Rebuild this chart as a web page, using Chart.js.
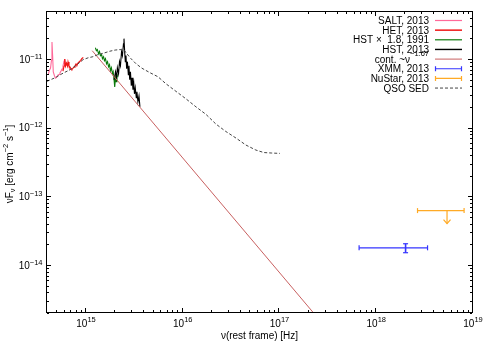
<!DOCTYPE html>
<html>
<head>
<meta charset="utf-8">
<script src="https://cdn.jsdelivr.net/npm/chart.js@4.4.1/dist/chart.umd.min.js"></script>
<style>
  html, body { margin: 0; padding: 0; background: #fff; }
  #wrap { width: 491px; height: 343px; }
</style>
</head>
<body>
<div id="wrap"><canvas id="sed" width="491" height="343"></canvas></div>
<script>
// rest-frame frequency [Hz] and nuF_nu [erg cm^-2 s^-1]
const saltNu   = [4.09e14, 4.20e14, 4.30e14, 4.40e14, 4.45e14, 4.53e14, 4.59e14, 4.73e14, 4.86e14, 5.01e14, 5.14e14,
                  5.26e14, 5.38e14, 5.52e14, 5.65e14, 5.78e14, 5.93e14, 6.03e14, 6.14e14, 6.29e14, 6.44e14];
const saltFlux = [6.05e-12, 6.92e-12, 7.39e-12, 9.67e-12, 1.77e-11, 1.03e-11, 6.47e-12, 5.65e-12, 5.28e-12, 5.47e-12, 5.85e-12,
                  5.94e-12, 6.25e-12, 6.68e-12, 7.15e-12, 7.91e-12, 9.35e-12, 1.00e-11, 7.91e-12, 8.45e-12, 7.91e-12];

const hetNu   = [5.78e14, 5.93e14, 6.03e14, 6.14e14, 6.29e14, 6.44e14, 6.52e14, 6.67e14, 6.84e14, 7.00e14, 7.16e14,
                 7.35e14, 7.52e14, 7.69e14, 7.89e14, 8.07e14, 8.26e14, 8.47e14, 8.67e14, 8.87e14, 9.09e14, 9.38e14];
const hetFlux = [6.68e-12, 7.91e-12, 1.00e-11, 7.91e-12, 8.74e-12, 7.91e-12, 9.04e-12, 7.91e-12, 7.64e-12, 7.15e-12, 7.03e-12,
                 7.39e-12, 7.64e-12, 7.91e-12, 8.45e-12, 8.18e-12, 8.74e-12, 9.04e-12, 9.35e-12, 9.67e-12, 1.02e-11, 1.05e-11];

// HST 1991, already scaled x1.8
const hst91Nu   = [1.25e15, 1.28e15, 1.31e15, 1.35e15, 1.38e15, 1.41e15, 1.45e15, 1.48e15, 1.52e15, 1.55e15, 1.59e15, 1.63e15, 1.67e15,
                   1.71e15, 1.75e15, 1.79e15, 1.83e15, 1.88e15, 1.91e15, 1.95e15, 1.98e15, 2.02e15, 2.05e15, 2.09e15, 2.12e15];
const hst91Flux = [1.46e-11, 1.32e-11, 1.37e-11, 1.19e-11, 1.28e-11, 1.12e-11, 1.16e-11, 1.01e-11, 1.08e-11, 9.45e-12, 1.01e-11, 8.53e-12, 9.14e-12,
                   7.71e-12, 8.26e-12, 6.75e-12, 7.46e-12, 6.10e-12, 6.52e-12, 4.98e-12, 3.93e-12, 5.33e-12, 4.66e-12, 6.10e-12, 5.51e-12];

const hst13Nu   = [1.95e15, 2.02e15, 2.07e15, 2.11e15, 2.17e15, 2.22e15, 2.27e15, 2.33e15, 2.38e15, 2.44e15, 2.47e15, 2.51e15, 2.55e15,
                   2.59e15, 2.63e15, 2.68e15, 2.74e15, 2.78e15, 2.83e15, 2.88e15, 2.94e15, 2.99e15, 3.06e15, 3.12e15, 3.17e15, 3.23e15,
                   3.31e15, 3.36e15, 3.44e15, 3.53e15, 3.61e15];
const hst13Flux = [4.98e-12, 6.52e-12, 5.33e-12, 7.46e-12, 6.10e-12, 9.14e-12, 7.98e-12, 1.28e-11, 1.12e-11, 1.67e-11, 1.98e-11, 1.28e-11, 9.14e-12,
                   1.12e-11, 7.21e-12, 9.14e-12, 5.89e-12, 7.98e-12, 4.98e-12, 6.52e-12, 4.07e-12, 5.33e-12, 3.56e-12, 4.36e-12, 3.11e-12, 3.80e-12,
                   2.72e-12, 3.33e-12, 2.38e-12, 2.90e-12, 2.01e-12];

// continuum ~nu^-1.67, end points
const contNu   = [1.16e15, 2.3e17];
const contFlux = [1.32e-11, 1.93e-15];

// XMM: [low, centre, high]
const xmmNu   = [6.65e17, 2.01e18, 3.39e18];
const xmmFlux = [1.51e-14, 1.78e-14, 2.04e-14];

// NuSTAR upper limit: [low, centre, high], flux level and arrow tip
const nustarNu   = [2.67e18, 5.39e18, 8.09e18];
const nustarFlux = [6.2e-14, 4.0e-14];

const qsoNu   = [3.95e14, 4.79e14, 5.65e14, 6.84e14, 8.07e14, 9.31e14, 1.05e15, 1.18e15, 1.33e15, 1.53e15, 1.77e15, 2.00e15, 2.24e15,
                 2.47e15, 2.65e15, 2.92e15, 3.29e15, 3.79e15, 4.59e15, 5.55e15, 6.70e15, 8.51e15, 1.08e16, 1.37e16, 1.74e16, 2.20e16,
                 2.79e16, 3.55e16, 4.50e16, 5.70e16, 6.90e16, 8.34e16, 1.01e17];
const qsoFlux = [4.73e-12, 5.33e-12, 6.10e-12, 6.98e-12, 8.26e-12, 9.77e-12, 1.04e-11, 1.08e-11, 1.16e-11, 1.22e-11, 1.30e-11, 1.35e-11, 1.37e-11,
                 1.35e-11, 1.19e-11, 1.01e-11, 8.53e-12, 7.33e-12, 6.31e-12, 5.51e-12, 4.36e-12, 3.38e-12, 2.63e-12, 2.01e-12, 1.56e-12, 1.13e-12,
                 8.79e-13, 7.06e-13, 5.58e-13, 4.72e-13, 4.34e-13, 4.27e-13, 4.22e-13];

const xTicks = [1e15, 1e16, 1e17, 1e18, 1e19];
const yTicks = [1e-14, 1e-13, 1e-12, 1e-11];
const legendLabels = ['SALT, 2013', 'HET, 2013', 'HST \u00d7  1.8, 1991', 'HST, 2013', 'cont. ~\u03bd', 'XMM, 2013', 'NuStar, 2013', 'QSO SED'];
const contExponent = '\u22121.67';

const C_SALT = '#ff6a9a', C_HET = '#f01515', C_HST91 = '#0b7a0b', C_HST13 = '#000000';
const C_CONT = '#c86060', C_XMM = '#3535ff', C_NU = '#ffaa25', C_QSO = '#444444';
const FONT = '"Liberation Sans", Arial, Helvetica, sans-serif';
const f = px => px + 'px ' + FONT;

const pts = (xs, ys) => xs.map((v, i) => ({ x: v, y: ys[i] }));

function lineSet(label, data, color, width, extra) {
    return Object.assign({
        label, data, borderColor: color, backgroundColor: color, borderWidth: width,
        showLine: true, pointRadius: 0, tension: 0, clip: 0
    }, extra || {});
}

const capped = (color, rot) => ({ pointStyle: 'line', pointRadius: 2.5, pointRotation: rot, pointBorderColor: color, pointBorderWidth: 1.2 });

const datasets = [
    lineSet('SALT, 2013', pts(saltNu, saltFlux), C_SALT, 1.1),
    lineSet('HET, 2013', pts(hetNu, hetFlux), C_HET, 1.2),
    lineSet('HST x 1.8, 1991', pts(hst91Nu, hst91Flux), C_HST91, 1.1),
    lineSet('HST, 2013', pts(hst13Nu, hst13Flux), C_HST13, 1.1),
    lineSet('cont.', pts(contNu, contFlux), C_CONT, 1),
    lineSet('XMM', [{ x: xmmNu[0], y: xmmFlux[1] }, { x: xmmNu[2], y: xmmFlux[1] }], C_XMM, 1.2, capped(C_XMM, 90)),
    lineSet('XMM err', [{ x: xmmNu[1], y: xmmFlux[0] }, { x: xmmNu[1], y: xmmFlux[2] }], C_XMM, 1.6, capped(C_XMM, 0)),
    lineSet('NuStar', [{ x: nustarNu[0], y: nustarFlux[0] }, { x: nustarNu[2], y: nustarFlux[0] }], C_NU, 1.2, capped(C_NU, 90)),
    lineSet('NuStar limit', [{ x: nustarNu[1], y: nustarFlux[0] }, { x: nustarNu[1], y: nustarFlux[1] }], C_NU, 1.2),
    lineSet('QSO SED', pts(qsoNu, qsoFlux), C_QSO, 1, { borderDash: [3, 2] })
];
// later datasets on top, like gnuplot
datasets.forEach((d, i) => { d.order = datasets.length - i; });

const isPow10 = v => Math.abs(Math.log10(v) - Math.round(Math.log10(v))) < 1e-6;
function logTicks(min, max) {
    const out = [];
    for (let e = Math.floor(Math.log10(min)); e <= Math.ceil(Math.log10(max)); e++) {
        for (let k = 1; k < 10; k++) {
            const v = k * Math.pow(10, e);
            if (v >= min * 0.999 && v <= max * 1.001) out.push(v);
        }
    }
    return out;
}
const expText = v => String(Math.round(Math.log10(v))).replace('-', '\u2212');

const gnuplotFrame = {
    id: 'gnuplotFrame',
    afterDatasetsDraw(chart) {
        const { ctx, scales: { x, y } } = chart;
        // arrow head of the NuSTAR upper limit
        const px = x.getPixelForValue(nustarNu[1]), py = y.getPixelForValue(nustarFlux[1]);
        ctx.save();
        ctx.strokeStyle = C_NU; ctx.lineWidth = 1.2;
        ctx.beginPath();
        ctx.moveTo(px - 3.5, py - 4); ctx.lineTo(px, py); ctx.lineTo(px + 3.5, py - 4);
        ctx.stroke();
        ctx.restore();
    },
    afterDraw(chart) {
        const { ctx, chartArea: a, scales: { x, y } } = chart;
        ctx.save();
        ctx.strokeStyle = '#000'; ctx.lineWidth = 1;
        ctx.strokeRect(a.left + 0.5, a.top + 0.5, a.right - a.left - 1, a.bottom - a.top - 1);

        ctx.beginPath();
        logTicks(x.min, x.max).forEach(v => {
            const p = Math.round(x.getPixelForValue(v)) - 0.5;
            const len = isPow10(v) ? 4 : 2;
            ctx.moveTo(p, a.bottom - 1); ctx.lineTo(p, a.bottom - 1 - len);
            ctx.moveTo(p, a.top + 1); ctx.lineTo(p, a.top + 1 + len);
        });
        logTicks(y.min, y.max).forEach(v => {
            const p = Math.round(y.getPixelForValue(v)) + 0.5;
            const len = isPow10(v) ? 4 : 2;
            ctx.moveTo(a.left + 1, p); ctx.lineTo(a.left + 1 + len, p);
            ctx.moveTo(a.right - 1, p); ctx.lineTo(a.right - 1 - len, p);
        });
        ctx.stroke();

        ctx.fillStyle = '#000';
        ctx.textBaseline = 'alphabetic';
        ctx.textAlign = 'left';
        xTicks.forEach(v => {
            const e = expText(v);
            ctx.font = f(10); const w1 = ctx.measureText('10').width;
            ctx.font = f(7.5); const w2 = ctx.measureText(e).width;
            const s = x.getPixelForValue(v) - (w1 + w2) / 2;
            ctx.font = f(10); ctx.fillText('10', s, 327);
            ctx.font = f(7.5); ctx.fillText(e, s + w1, 321.5);
        });
        yTicks.forEach(v => {
            const e = expText(v);
            ctx.font = f(10); const w1 = ctx.measureText('10').width;
            ctx.font = f(7.5); const w2 = ctx.measureText(e).width;
            const r = a.left - 3.5, p = y.getPixelForValue(v);
            ctx.font = f(10); ctx.fillText('10', r - w2 - w1, p + 3.8);
            ctx.font = f(7.5); ctx.fillText(e, r - w2, p - 0.3);
        });

        // axis titles
        ctx.font = f(10); ctx.textAlign = 'center';
        ctx.fillText('\u03bd(rest frame) [Hz]', (a.left + a.right) / 2, 338.5);

        const parts = [['\u03bdF', 10, 0], ['\u03bd', 7.5, 2.5], [' [erg cm', 10, 0], ['\u22122', 7.5, -4.5],
                       [' s', 10, 0], ['\u22121', 7.5, -4.5], [']', 10, 0]];
        let total = 0;
        parts.forEach(p => { ctx.font = f(p[1]); total += ctx.measureText(p[0]).width; });
        ctx.save();
        ctx.translate(12.5, (a.top + a.bottom) / 2 + 2);
        ctx.rotate(-Math.PI / 2);
        ctx.textAlign = 'left';
        let cx = -total / 2;
        parts.forEach(p => { ctx.font = f(p[1]); ctx.fillText(p[0], cx, p[2]); cx += ctx.measureText(p[0]).width; });
        ctx.restore();

        // legend
        const colors = [C_SALT, C_HET, C_HST91, C_HST13, C_CONT, C_XMM, C_NU, C_QSO];
        const widths = [1.2, 1.5, 1.2, 1.4, 1, 1.2, 1.2, 1];
        legendLabels.forEach((lab, i) => {
            const yy = 20.5 + i * 9.65;
            const right = 429;
            ctx.textAlign = 'left';
            ctx.font = f(10);
            let w = ctx.measureText(lab).width, ws = 0;
            if (i === 4) { ctx.font = f(7.5); ws = ctx.measureText(contExponent).width; }
            ctx.font = f(10);
            ctx.fillStyle = '#000';
            ctx.fillText(lab, right - ws - w, yy + 3.6);
            if (i === 4) { ctx.font = f(7.5); ctx.fillText(contExponent, right - ws, yy - 3); }

            ctx.strokeStyle = colors[i]; ctx.lineWidth = widths[i];
            ctx.setLineDash(i === 7 ? [3, 2] : []);
            ctx.beginPath();
            ctx.moveTo(435, yy); ctx.lineTo(462, yy);
            if (i === 5 || i === 6) {
                ctx.moveTo(435.5, yy - 2.5); ctx.lineTo(435.5, yy + 2.5);
                ctx.moveTo(461.5, yy - 2.5); ctx.lineTo(461.5, yy + 2.5);
            }
            ctx.stroke();
        });
        ctx.setLineDash([]);
        ctx.restore();
    }
};

new Chart(document.getElementById('sed'), {
    type: 'scatter',
    data: { datasets },
    options: {
        responsive: false,
        animation: false,
        events: [],
        layout: { padding: { top: 11, right: 18, bottom: 0, left: 0 } },
        plugins: { legend: { display: false }, tooltip: { enabled: false } },
        scales: {
            x: {
                type: 'logarithmic', min: 3.86e14, max: 1e19,
                grid: { display: false }, border: { display: false }, ticks: { display: false },
                afterFit: s => { s.height = 30; }
            },
            y: {
                type: 'logarithmic', min: 2e-15, max: 5e-11,
                grid: { display: false }, border: { display: false }, ticks: { display: false },
                afterFit: s => { s.width = 46; }
            }
        }
    },
    plugins: [gnuplotFrame]
});
</script>
</body>
</html>
